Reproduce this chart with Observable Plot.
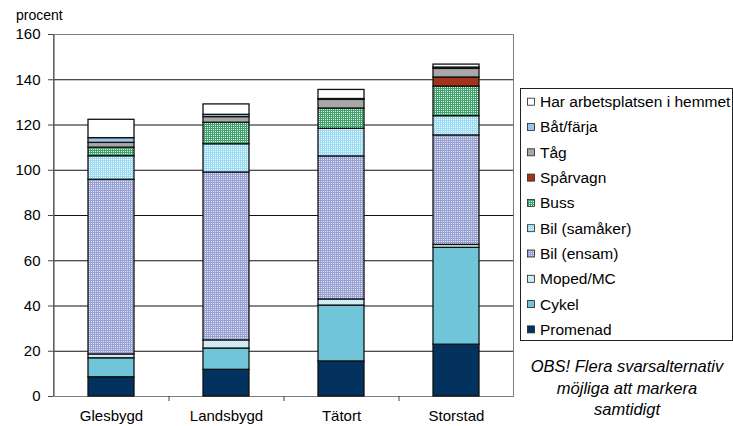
<!DOCTYPE html>
<html>
<head>
<meta charset="utf-8">
<script src="https://cdn.jsdelivr.net/npm/d3@7"></script>
<script src="https://cdn.jsdelivr.net/npm/@observablehq/plot@0.6"></script>
<style>
  body { margin: 0; background: #fff; }
  #chart svg { display: block; }
</style>
</head>
<body>
<div id="chart"></div>
<script>
// Färdsätt till arbetet per bygdstyp (procent, flera svar möjliga)
const categories = ["Glesbygd", "Landsbygd", "Tätort", "Storstad"];
const series = ["Promenad", "Cykel", "Moped/MC", "Bil (ensam)", "Bil (samåker)",
                "Buss", "Spårvagn", "Tåg", "Båt/färja", "Har arbetsplatsen i hemmet"];

const promenad   = [8.5, 11.8, 15.5, 22.9];
const cykel      = [8.4, 9.4, 24.7, 42.8];
const moped      = [1.7, 3.6, 2.7, 1.3];
const bilEnsam   = [77.2, 74.2, 63.2, 48.4];
const bilSamaker = [10.4, 12.5, 12.2, 8.5];
const buss       = [3.8, 9.5, 9.0, 13.1];
const sparvagn   = [0, 0, 0, 4.0];
const tag        = [2.1, 2.5, 3.8, 3.8];
const batFarja   = [2.1, 1.0, 0.4, 0.6];
const hemmet     = [8.1, 4.6, 4.0, 1.3];

const yTicks = [0, 20, 40, 60, 80, 100, 120, 140, 160];
const noteLines = ["OBS! Flera svarsalternativ", "möjliga att markera", "samtidigt"];

const seriesValues = [promenad, cykel, moped, bilEnsam, bilSamaker, buss, sparvagn, tag, batFarja, hemmet];
const fills = ["#04325f", "#70c5d8", "#d0ebf2", "url(#pat-ensam)", "url(#pat-samaker)",
               "url(#pat-buss)", "#a3341a", "#a8a8a8", "#9cc2e4", "#ffffff"];

// long table, stacked bottom-to-top in series order
const rows = [];
series.forEach((s, si) => {
  categories.forEach((c, ci) => {
    const v = seriesValues[si][ci];
    if (v > 0) rows.push({category: c, series: s, value: v});
  });
});

const W = 733, H = 426;
const M = {top: 34, right: 220, bottom: 30, left: 53};
const step = (W - M.left - M.right) / categories.length;
const font = "'Liberation Sans', Arial, sans-serif";

const chart = Plot.plot({
  width: W,
  height: H,
  marginTop: M.top,
  marginRight: M.right,
  marginBottom: M.bottom,
  marginLeft: M.left,
  style: {fontFamily: font, fontSize: "15px", color: "#000", background: "#fff"},
  x: {domain: categories, paddingInner: 0.6, paddingOuter: 0.3, label: null},
  y: {domain: [0, 160], label: null},
  color: {domain: series, range: fills},
  marks: [
    Plot.ruleY(yTicks.slice(1, -1), {stroke: "#111", strokeWidth: 1}),
    Plot.frame({stroke: "#7f7f7f", strokeWidth: 1}),
    Plot.ruleX([0], {x: () => categories[0], dx: -step / 2, y1: 0, y2: 160, stroke: "#444"}),
    Plot.ruleX(categories.slice(1), {x: d => d, dx: -step / 2, y1: 0, y2: 0, insetBottom: -5, stroke: "#444"}),
    Plot.barY(rows, {x: "category", y: "value", fill: "series", stroke: "#111", strokeWidth: 1.3}),
    Plot.axisY({ticks: yTicks, tickSize: 5, tickPadding: 8, fontSize: 15, stroke: "#444"}),
    Plot.axisX({tickSize: 0, tickPadding: 14, fontSize: 15})
  ]
});

const svg = d3.select(chart);

// fill patterns for the dotted series
const defs = svg.insert("defs", ":first-child");
function pattern(id, base, dots) {
  const p = defs.append("pattern").attr("id", id)
    .attr("patternUnits", "userSpaceOnUse").attr("width", 2).attr("height", 2);
  p.append("rect").attr("width", 2).attr("height", 2).attr("fill", base);
  dots.forEach(([x, y, c]) => p.append("rect").attr("x", x).attr("y", y)
    .attr("width", 1).attr("height", 1).attr("fill", c));
}
pattern("pat-ensam", "#96a0d2", [[1, 1, "#e2e5f4"]]);
pattern("pat-samaker", "#9bdcf4", [[1, 1, "#eef9fd"]]);
pattern("pat-buss", "#3ea06a", [[1, 1, "#e4f4ea"]]);

// axis title
svg.append("text").attr("x", 16).attr("y", 20).attr("text-anchor", "start")
  .attr("font-family", font).attr("font-size", 14).text("procent");

// legend, top entry = top of stack
const lg = svg.append("g").attr("font-family", font).attr("font-size", 15.5)
  .attr("text-anchor", "start");
lg.append("rect").attr("x", 520.5).attr("y", 88.5).attr("width", 212).attr("height", 252)
  .attr("fill", "#fff").attr("stroke", "#222");
series.slice().reverse().forEach((s, i) => {
  const cy = 101.7 + i * 25.3;
  const fi = series.indexOf(s);
  lg.append("rect").attr("x", 527.5).attr("y", cy - 3.5).attr("width", 7).attr("height", 7)
    .attr("fill", fills[fi]).attr("stroke", "#222").attr("stroke-width", 0.8);
  lg.append("text").attr("x", 540).attr("y", cy).attr("dy", "0.35em").text(s);
});

// note under the legend
const note = svg.append("text").attr("font-family", font).attr("font-size", 16.5)
  .attr("font-style", "italic").attr("text-anchor", "middle");
noteLines.forEach((t, i) => note.append("tspan").attr("x", 627).attr("y", 372 + i * 21.5).text(t));

document.getElementById("chart").appendChild(chart);
</script>
</body>
</html>
